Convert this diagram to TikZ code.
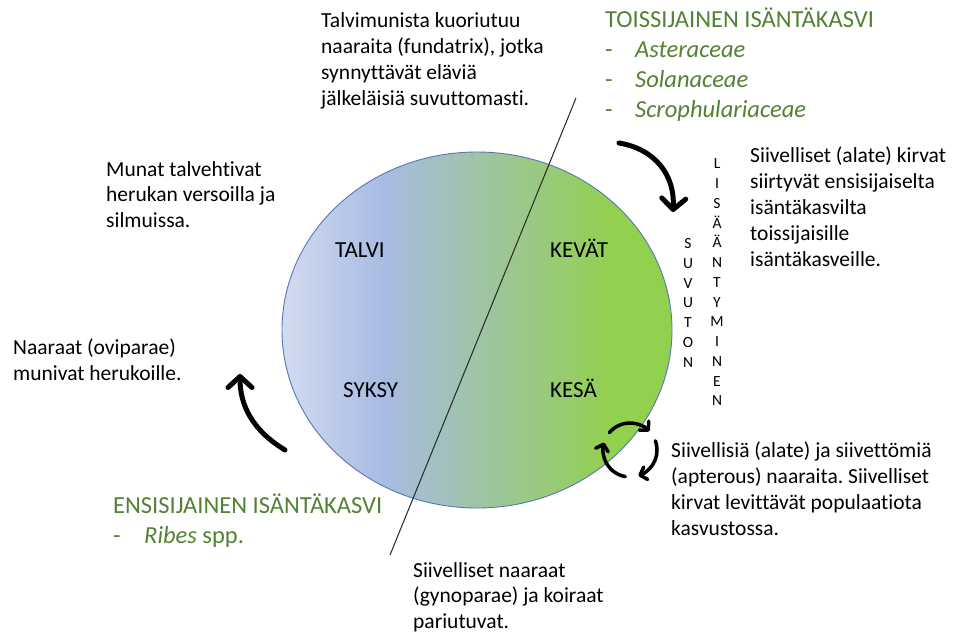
\documentclass[tikz,border=0pt]{standalone}
\usepackage{fontspec}
\setmainfont{Carlito}[Ligatures=NoCommon]
\usetikzlibrary{arrows.meta,shapes.geometric}
\frenchspacing
\definecolor{txtgreen}{HTML}{548235}
\definecolor{cA}{HTML}{D2DCF0}
\definecolor{cB}{HTML}{A8BBE3}
\definecolor{cC}{HTML}{92D050}
\definecolor{rimblue}{HTML}{5577B8}
\pgfdeclarehorizontalshading{seasons}{100bp}{color(0bp)=(cA); color(25bp)=(cA); color(38bp)=(cB); color(67bp)=(cC); color(100bp)=(cC)}
\newcommand\mylines[1]{\begin{tabular}[t]{@{}l@{}}#1\end{tabular}}
\newcommand\mycol[1]{\begin{tabular}{@{}c@{}}#1\end{tabular}}
\tikzset{
  body/.style={inner sep=0pt, anchor=base west, text=black, font=\fontsize{21.5}{26}\selectfont},
  bodyb/.style={body, font=\fontsize{21.5}{25.5}\selectfont},
  greenblock/.style={inner sep=0pt, anchor=base west, text=txtgreen, font=\fontsize{24.5}{30}\selectfont},
  season/.style={inner sep=0pt, anchor=base west, text=black, font=\fontsize{23}{26}\selectfont},
  vert/.style={inner sep=0pt, text=black, font=\fontsize{15.5}{19.75}\selectfont},
  bigarrow/.style={line width=5pt, line cap=round, -{Straight Barb[length=11pt,width=24pt,round]}},
  smallarrow/.style={line width=3.5pt, line cap=round, -{Straight Barb[length=6pt,width=13pt,round]}},
  divider/.style={line width=1pt, draw=black!85},
}
\begin{document}
\begin{tikzpicture}[x=1pt, y=-1pt]
\fill[white] (0,0) rectangle (958,635);
\useasboundingbox (0,0) rectangle (958,635);

% season ellipse
\node[ellipse, draw=rimblue, line width=0.9pt, shading=seasons, inner sep=0pt,
      minimum width=390pt, minimum height=356pt] (cyclebody) at (477,330) {};

% dividing line
\coordinate (d1) at (576,98);
\coordinate (d2) at (390,555);
\draw[divider] (d1) -- (d2);

% season labels
\node[season] (talvi) at (335,257) {TALVI};
\node[season] (kevat) at (550,257) {KEVÄT};
\node[season] (syksy) at (343,397) {SYKSY};
\node[season] (kesa) at (550,397) {KESÄ};

% texts
\node[body] (fundatrix) at (321,27) {\mylines{Talvimunista kuoriutuu\\naaraita (fundatrix), jotka\\synnyttävät eläviä\\jälkeläisiä suvuttomasti.}};

\node[greenblock] (secondary) at (605,27) {\begin{tabular}[t]{@{}l@{\hspace{22.5pt}}l@{}}\multicolumn{2}{@{}l@{}}{TOISSIJAINEN ISÄNTÄKASVI}\\-&\textit{Asteraceae}\\-&\textit{Solanaceae}\\-&\textit{Scrophulariaceae}\end{tabular}};

\node[body] (alate) at (750,162) {\mylines{Siivelliset (alate) kirvat\\siirtyvät ensisijaiselta\\isäntäkasvilta\\toissijaisille\\isäntäkasveille.}};

\node[bodyb] (eggs) at (106,176) {\mylines{Munat talvehtivat\\herukan versoilla ja\\silmuissa.}};

\node[body] (ovip) at (13,354) {\mylines{Naaraat (oviparae)\\munivat herukoille.}};

\node[body] (apter) at (671,457) {\mylines{Siivellisiä (alate) ja siivettömiä\\(apterous) naaraita. Siivelliset\\kirvat levittävät populaatiota\\kasvustossa.}};

\node[bodyb] (gynop) at (413,577) {\mylines{Siivelliset naaraat\\(gynoparae) ja koiraat\\pariutuvat.}};

\node[greenblock] (primary) at (113,513) {\begin{tabular}[t]{@{}l@{\hspace{23.5pt}}l@{}}\multicolumn{2}{@{}l@{}}{ENSISIJAINEN ISÄNTÄKASVI}\\-&\textit{Ribes} spp.\end{tabular}};

% vertical words
\node[vert] (lisaant) at (717,283.5) {\mycol{L\\I\\S\\Ä\\Ä\\N\\T\\Y\\M\\I\\N\\E\\N}};
\node[vert] (suvuton) at (688,304) {\mycol{S\\U\\V\\U\\T\\O\\N}};

% big arrows
\coordinate (a1s) at (619,143);
\coordinate (a1e) at (673,212);
\draw[bigarrow] (a1s) .. controls (655,149) and (675,175) .. (a1e);

\coordinate (a2s) at (285,450);
\coordinate (a2e) at (240,374);
\draw[bigarrow] (a2s) .. controls (252,430) and (240,405) .. (a2e);

% cycle arrows
\coordinate (cyc) at (630,450);
\draw[smallarrow] ([shift={(-140:27)}]cyc) arc[start angle=-140, end angle=-44, radius=27];
\draw[smallarrow] ([shift={(-20:27)}]cyc) arc[start angle=-20, end angle=72, radius=27];
\draw[smallarrow] ([shift={(100:27)}]cyc) arc[start angle=100, end angle=196, radius=27];
\end{tikzpicture}
\end{document}
